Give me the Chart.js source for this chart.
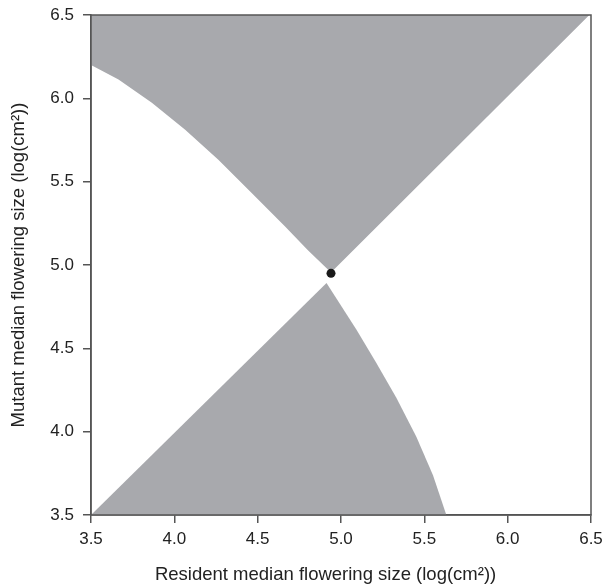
<!DOCTYPE html>
<html>
<head>
<meta charset="utf-8">
<script src="https://cdn.jsdelivr.net/npm/chart.js@4"></script>
<style>
html,body{margin:0;padding:0;background:#fff;}
#wrap{width:606px;height:586px;}
</style>
</head>
<body>
<div id="wrap"><canvas id="c" width="606" height="586"></canvas></div>
<script>
// Upper invasion region: lower boundary (curve then diagonal), filled up to top
const upperBoundaryX = [3.5, 3.665, 3.865, 4.065, 4.264, 4.464, 4.663, 4.8, 4.94, 6.49, 6.5];
const upperBoundaryY = [6.2, 6.113, 5.973, 5.812, 5.632, 5.432, 5.232, 5.09, 4.955, 6.5, 6.5];
// Lower invasion region: upper boundary (diagonal then curve), filled down to bottom
const lowerBoundaryX = [3.5, 4.913, 5.093, 5.213, 5.332, 5.452, 5.552, 5.632];
const lowerBoundaryY = [3.5, 4.892, 4.611, 4.411, 4.203, 3.969, 3.739, 3.5];
// Singular strategy point
const singularX = [4.94];
const singularY = [4.95];
const tickValues = [3.5, 4.0, 4.5, 5.0, 5.5, 6.0, 6.5];

const toPts = (xs, ys) => xs.map((x, i) => ({x: x, y: ys[i]}));
const GRAY = '#a8a9ad';
const AXIS = '#555555';
const TXT = '#222222';
const FAM = 'Liberation Sans, Arial, sans-serif';

const boxPlugin = {
  id: 'box',
  afterDraw(chart) {
    const a = chart.chartArea, ctx = chart.ctx;
    ctx.save();
    ctx.strokeStyle = AXIS;
    ctx.lineWidth = 1.5;
    ctx.strokeRect(a.left, a.top, a.right - a.left, a.bottom - a.top);
    ctx.restore();
  }
};

new Chart(document.getElementById('c'), {
  type: 'scatter',
  data: {
    datasets: [
      {
        type: 'line',
        data: toPts(upperBoundaryX, upperBoundaryY),
        showLine: true, tension: 0, pointRadius: 0, borderWidth: 0,
        borderColor: GRAY, backgroundColor: GRAY, fill: 'end', order: 3
      },
      {
        type: 'line',
        data: toPts(lowerBoundaryX, lowerBoundaryY),
        showLine: true, tension: 0, pointRadius: 0, borderWidth: 0,
        borderColor: GRAY, backgroundColor: GRAY, fill: 'start', order: 2
      },
      {
        data: toPts(singularX, singularY),
        pointRadius: 4.5, pointBackgroundColor: '#1a1a1a', pointBorderWidth: 0,
        order: 1
      }
    ]
  },
  options: {
    responsive: false,
    animation: false,
    devicePixelRatio: 1,
    layout: {padding: {left: 0, right: 15, top: 15, bottom: 0}},
    plugins: {legend: {display: false}, tooltip: {enabled: false}},
    scales: {
      x: {
        type: 'linear', min: 3.5, max: 6.5,
        afterBuildTicks: s => { s.ticks = tickValues.map(v => ({value: v})); },
        afterFit: s => { s.height = 71; s.paddingLeft = 0; s.paddingRight = 0; },
        grid: {display: true, drawOnChartArea: false, drawTicks: true, tickLength: 8, color: AXIS, lineWidth: 1.5},
        border: {display: true, color: AXIS, width: 1.5},
        ticks: {color: TXT, font: {family: FAM, size: 17}, padding: 6,
                callback: v => Number(v).toFixed(1), maxRotation: 0},
        title: {display: true, text: 'Resident median flowering size (log(cm\u00B2))\u00A0\u00A0\u00A0\u00A0\u00A0\u00A0', color: TXT,
                font: {family: FAM, size: 18.5}, padding: {top: 1, bottom: 0}}
      },
      y: {
        type: 'linear', min: 3.5, max: 6.5,
        afterBuildTicks: s => { s.ticks = tickValues.map(v => ({value: v})); },
        afterFit: s => { s.width = 91; s.paddingTop = 0; s.paddingBottom = 0; },
        grid: {display: true, drawOnChartArea: false, drawTicks: true, tickLength: 8, color: AXIS, lineWidth: 1.5},
        border: {display: true, color: AXIS, width: 1.5},
        ticks: {color: TXT, font: {family: FAM, size: 17}, padding: 9,
                callback: v => Number(v).toFixed(1)},
        title: {display: true, text: 'Mutant median flowering size (log(cm\u00B2))', color: TXT,
                font: {family: FAM, size: 18.5}, padding: {top: 8, bottom: 0}}
      }
    }
  },
  plugins: [boxPlugin]
});
</script>
</body>
</html>
